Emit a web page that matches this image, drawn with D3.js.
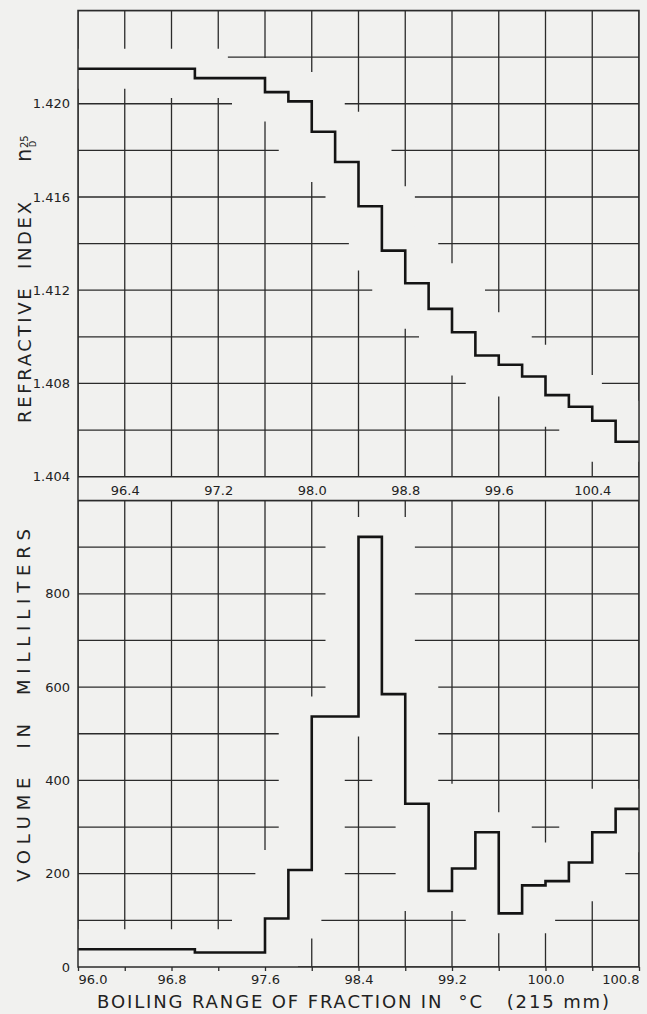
<!DOCTYPE html>
<html><head><meta charset="utf-8">
<script src="https://cdn.jsdelivr.net/npm/d3@7"></script>
<style>html,body{margin:0;padding:0;background:#f1f1ef;} svg{display:block} text{font-family:"DejaVu Sans",sans-serif;fill:#222;}</style>
</head><body><svg id="c" width="647" height="1014"></svg>
<script>
// ---- data ----
const xTicksAll = [96.0, 96.4, 96.8, 97.2, 97.6, 98.0, 98.4, 98.8, 99.2, 99.6, 100.0, 100.4, 100.8];
const xLabelsBottom = [96.0, 96.8, 97.6, 98.4, 99.2, 100.0, 100.8];
const xLabelsTop = [96.4, 97.2, 98.0, 98.8, 99.6, 100.4];
const riGrid = [1.404, 1.406, 1.408, 1.410, 1.412, 1.414, 1.416, 1.418, 1.420, 1.422, 1.424];
const riLabels = [1.404, 1.408, 1.412, 1.416, 1.420];
const volGrid = [0, 100, 200, 300, 400, 500, 600, 700, 800, 900, 1000];
const volLabels = [0, 200, 400, 600, 800];
// refractive index step curve: fraction edges (°C) and index of each fraction
const riEdges = [96.0, 97.0, 97.6, 97.8, 98.0, 98.2, 98.4, 98.6, 98.8, 99.0, 99.2, 99.4, 99.6, 99.8, 100.0, 100.2, 100.4, 100.6, 100.8];
const riValues = [1.4215, 1.4211, 1.4205, 1.4201, 1.4188, 1.4175, 1.4156, 1.4137, 1.4123, 1.4112, 1.4102, 1.4092, 1.4088, 1.4083, 1.4075, 1.4070, 1.4064, 1.4055];
// volume step curve: fraction edges (°C) and volume (ml)
const volEdges = [96.0, 97.0, 97.6, 97.8, 98.0, 98.4, 98.6, 98.8, 99.0, 99.2, 99.4, 99.6, 99.8, 100.0, 100.2, 100.4, 100.6, 100.8];
const volValues = [38, 31, 104, 208, 537, 922, 585, 350, 163, 211, 289, 115, 175, 184, 224, 289, 339];

// ---- layout ----
const svg = d3.select("#c");
const bg = "#f1f1ef", ink = "#2b2b2b";
const L = 78, R = 639;
const top1 = 10.5, bot1 = 476.7, top2 = 500.5, bot2 = 967;
const x = d3.scaleLinear().domain([96.0, 100.8]).range([L, R]);
const yT = d3.scaleLinear().domain([1.404, 1.424]).range([bot1, top1]);
const yB = d3.scaleLinear().domain([0, 1000]).range([bot2, top2]);
const SX = 1.65; // horizontal stretch of the white halo
const xh = d3.scaleLinear().domain(x.domain()).range(x.range().map(r => r / SX));

svg.append("rect").attr("width", 647).attr("height", 1014).attr("fill", bg);
const defs = svg.append("defs");

function panel(id, y, yTop, yBot, grid, edges, values) {
  defs.append("clipPath").attr("id", id).append("rect")
    .attr("x", L).attr("y", yTop).attr("width", R - L).attr("height", yBot - yTop);
  const g = svg.append("g").attr("clip-path", `url(#${id})`);
  g.selectAll(".h").data(grid).join("line")
    .attr("x1", L).attr("x2", R).attr("y1", d => y(d)).attr("y2", d => y(d))
    .attr("stroke", ink).attr("stroke-width", 1.3);
  g.selectAll(".v").data(xTicksAll).join("line")
    .attr("x1", d => x(d)).attr("x2", d => x(d)).attr("y1", yTop).attr("y2", yBot)
    .attr("stroke", ink).attr("stroke-width", 1.3);
  const pts = edges.map((e, i) => [e, values[Math.min(i, values.length - 1)]]);
  // white halo interrupting the grid around the curve
  g.append("g").attr("transform", `scale(${SX},1)`).append("path")
    .attr("d", d3.line().x(d => xh(d[0])).y(d => y(d[1])).curve(d3.curveStepAfter)(pts))
    .attr("fill", "none").attr("stroke", bg).attr("stroke-width", 40).attr("stroke-linejoin", "miter");
  g.append("path")
    .attr("d", d3.line().x(d => x(d[0])).y(d => y(d[1])).curve(d3.curveStepAfter)(pts))
    .attr("fill", "none").attr("stroke", "#141414").attr("stroke-width", 2.6).attr("stroke-linejoin", "miter");
}
panel("cp1", yT, top1, bot1, riGrid, riEdges, riValues);
panel("cp2", yB, top2, bot2, volGrid, volEdges, volValues);

// frame
const fr = svg.append("g").attr("stroke", ink).attr("stroke-width", 1.5).attr("fill", "none");
fr.append("rect").attr("x", L).attr("y", top1).attr("width", R - L).attr("height", bot2 - top1);
fr.append("line").attr("x1", L).attr("x2", R).attr("y1", bot1).attr("y2", bot1);
fr.append("line").attr("x1", L).attr("x2", R).attr("y1", top2).attr("y2", top2);

// y axes
function yAxis(scale, vals, fmt) {
  const a = svg.append("g").attr("transform", `translate(${L - 8},0)`)
    .call(d3.axisLeft(scale).tickValues(vals).tickFormat(fmt).tickSize(0).tickPadding(0));
  a.select(".domain").remove();
  a.selectAll("text").attr("font-size", 13).style("font-family", '"DejaVu Sans",sans-serif').attr("fill", "#222");
}
yAxis(yT, riLabels, d3.format(".3f"));
yAxis(yB, volLabels, d3.format("d"));

// bottom x axis with small ticks
const ax = svg.append("g").attr("transform", `translate(0,${bot2})`)
  .call(d3.axisBottom(x).tickValues(xTicksAll).tickSize(4).tickPadding(0)
    .tickFormat(d => xLabelsBottom.some(v => Math.abs(v - d) < 1e-6) ? d3.format(".1f")(d) : ""));
ax.select(".domain").remove();
ax.selectAll("line").attr("stroke", ink).attr("stroke-width", 1.3);
ax.selectAll("text").attr("font-size", 13).attr("y", 17).attr("dy", 0)
  .style("font-family", '"DejaVu Sans",sans-serif').attr("fill", "#222")
  .attr("text-anchor", d => Math.abs(d - 96.0) < 1e-6 ? "start" : Math.abs(d - 100.8) < 1e-6 ? "end" : "middle");

// middle band labels
const am = svg.append("g").attr("transform", `translate(0,${bot1})`)
  .call(d3.axisBottom(x).tickValues(xLabelsTop).tickSize(0).tickPadding(0).tickFormat(d3.format(".1f")));
am.select(".domain").remove();
am.selectAll("text").attr("font-size", 13).attr("y", 18.5).attr("dy", 0)
  .style("font-family", '"DejaVu Sans",sans-serif').attr("fill", "#222");

// titles
svg.append("text").attr("x", 97).attr("y", 1008).attr("font-size", 18)
  .attr("textLength", 512).attr("lengthAdjust", "spacing").style("white-space", "pre")
  .text("BOILING RANGE OF FRACTION IN  °C   (215 mm)");

const t1 = svg.append("g").attr("transform", "translate(30.5,0) rotate(-90)");
t1.append("text").attr("x", -423).attr("y", 0).attr("font-size", 18)
  .attr("textLength", 221).attr("lengthAdjust", "spacing").style("white-space", "pre")
  .text("REFRACTIVE  INDEX");
t1.append("text").attr("x", -162).attr("y", 0).attr("font-size", 21).text("n");
t1.append("text").attr("x", -148).attr("y", -3).attr("font-size", 10).text("25");
t1.append("text").attr("x", -147).attr("y", 5.5).attr("font-size", 8).text("D");

const t2 = svg.append("g").attr("transform", "translate(30,0) rotate(-90)");
t2.append("text").attr("x", -882).attr("y", 0).attr("font-size", 18)
  .attr("textLength", 353).attr("lengthAdjust", "spacing").style("white-space", "pre")
  .text("VOLUME  IN  MILLILITERS");
</script></body></html>
